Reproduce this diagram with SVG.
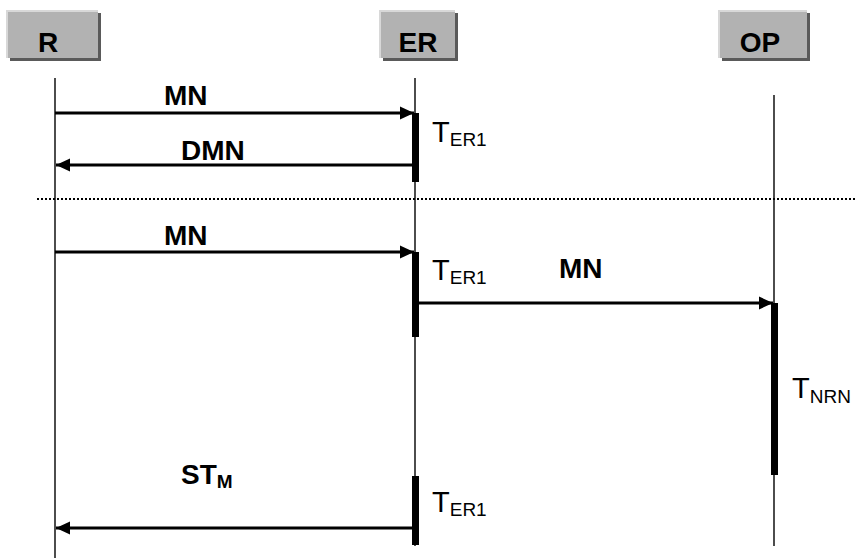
<svg xmlns="http://www.w3.org/2000/svg" width="855" height="558" viewBox="0 0 855 558">
<style>
.hdr{fill:#b2b2b2}
.sh{fill:#5a5a5a}
.hl{stroke:#d8d8d8;stroke-width:2;fill:none}
.ht{font-family:"Liberation Sans",Arial,sans-serif;font-weight:bold;font-size:28px;fill:#000;text-anchor:middle}
.life{stroke:#000;stroke-width:1.4;fill:none}
.bar{fill:#000}
.msg{stroke:#000;stroke-width:2.8;fill:none}
.lbl{font-family:"Liberation Sans",Arial,sans-serif;font-weight:bold;font-size:28px;fill:#000}
.tl{font-family:"Liberation Sans",Arial,sans-serif;font-size:29px;fill:#000}
.sub{font-size:19px}
.sub2{font-size:19px}
</style>
<defs>
<marker id="ah" markerUnits="userSpaceOnUse" markerWidth="15" markerHeight="15" viewBox="0 0 15 15" refX="14" refY="7.5" orient="auto">
<path d="M0,1 L14,7.5 L0,14 Z" fill="#000"/>
</marker>
</defs>
<rect width="855" height="558" fill="#fff"/>
<g id="node-R">
<rect class="sh" x="10" y="13" width="91" height="48"/>
<rect class="hdr" x="7" y="10" width="91" height="48"/>
<path class="hl" d="M7,58 V11 H98"/>
<text class="ht" x="48" y="52">R</text>
<line class="life" x1="55" y1="78" x2="55" y2="558"/>
</g>
<g id="node-ER">
<rect class="sh" x="383" y="13" width="75" height="48"/>
<rect class="hdr" x="380" y="10" width="75" height="48"/>
<path class="hl" d="M380,58 V11 H455"/>
<text class="ht" x="418" y="52">ER</text>
<line class="life" x1="415" y1="78" x2="415" y2="546"/>
<rect class="bar" x="412" y="113" width="7" height="69"/>
<rect class="bar" x="412" y="252" width="7" height="85"/>
<rect class="bar" x="412" y="476" width="7" height="69"/>
</g>
<g id="node-OP">
<rect class="sh" x="722" y="13" width="88" height="48"/>
<rect class="hdr" x="719" y="10" width="88" height="48"/>
<path class="hl" d="M719,58 V11 H807"/>
<text class="ht" x="760" y="52">OP</text>
<line class="life" x1="774" y1="95" x2="774" y2="546"/>
<rect class="bar" x="771" y="303" width="7" height="172"/>
</g>
<line x1="37" y1="199" x2="855" y2="199" stroke="#000" stroke-width="2" stroke-dasharray="2,2"/>
<g id="connectors">
<line class="msg" x1="55" y1="113" x2="414" y2="113" marker-end="url(#ah)"/>
<line class="msg" x1="413" y1="165" x2="56" y2="165" marker-end="url(#ah)"/>
<line class="msg" x1="55" y1="252" x2="414" y2="252" marker-end="url(#ah)"/>
<line class="msg" x1="419" y1="303" x2="773" y2="303" marker-end="url(#ah)"/>
<line class="msg" x1="413" y1="528" x2="56" y2="528" marker-end="url(#ah)"/>
</g>
<g id="labels">
<text class="lbl" x="164" y="105">MN</text>
<text class="lbl" x="181" y="160">DMN</text>
<text class="lbl" x="164" y="245">MN</text>
<text class="lbl" x="559" y="278">MN</text>
<text class="lbl" x="181" y="484">ST<tspan class="sub" dy="4">M</tspan></text>
<text class="tl" x="432" y="142">T<tspan class="sub2" dy="4">ER1</tspan></text>
<text class="tl" x="432" y="280">T<tspan class="sub2" dy="4">ER1</tspan></text>
<text class="tl" x="432" y="512">T<tspan class="sub2" dy="4">ER1</tspan></text>
<text class="tl" x="792" y="398">T<tspan class="sub2" dy="5">NRN</tspan></text>
</g>
</svg>
